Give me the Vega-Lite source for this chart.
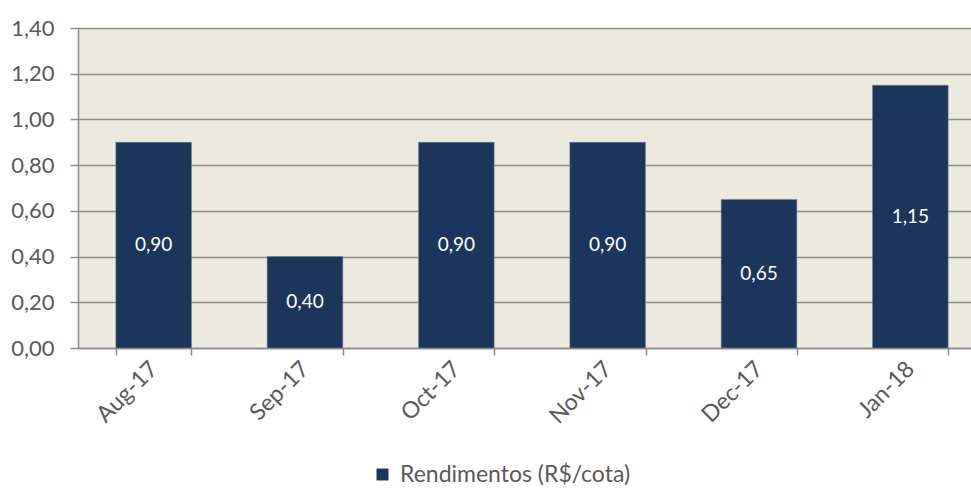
{
  "$schema": "https://vega.github.io/schema/vega-lite/v6.json",
  "width": 908,
  "height": 320,
  "autosize": {"type": "none"},
  "padding": {"left": 78, "top": 28, "right": 0, "bottom": 144},
  "background": "#ffffff",
  "config": {
    "locale": {"number": {"decimal": ",", "thousands": ".", "grouping": [3], "currency": ["R$", ""]}},
    "font": "Lato",
    "view": {"fill": "#ECE9DF", "stroke": null}
  },
  "data": {
    "values": [
      {"mes": "Aug-17", "valor": 0.90, "serie": "Rendimentos (R$/cota)"},
      {"mes": "Sep-17", "valor": 0.40, "serie": "Rendimentos (R$/cota)"},
      {"mes": "Oct-17", "valor": 0.90, "serie": "Rendimentos (R$/cota)"},
      {"mes": "Nov-17", "valor": 0.90, "serie": "Rendimentos (R$/cota)"},
      {"mes": "Dec-17", "valor": 0.65, "serie": "Rendimentos (R$/cota)"},
      {"mes": "Jan-18", "valor": 1.15, "serie": "Rendimentos (R$/cota)"}
    ]
  },
  "encoding": {
    "x": {
      "field": "mes", "type": "nominal", "sort": null,
      "scale": {"paddingInner": 0.5, "paddingOuter": 0.25},
      "axis": {
        "title": null, "labelAngle": -45, "labelAlign": "right", "labelBaseline": "middle",
        "labelFontSize": 23, "labelColor": "#595959", "labelPadding": 10,
        "tickBand": "extent", "tickSize": 7, "tickColor": "#8c8c8c", "tickWidth": 1.5,
        "domainColor": "#8c8c8c", "domainWidth": 1.5, "grid": false
      }
    }
  },
  "layer": [
    {
      "mark": {"type": "bar", "color": "#1A365D", "stroke": "#7d8794", "strokeWidth": 0.5},
      "encoding": {
        "y": {
          "field": "valor", "type": "quantitative",
          "scale": {"domain": [0, 1.4], "nice": false},
          "axis": {
            "title": null, "values": [0, 0.2, 0.4, 0.6, 0.8, 1.0, 1.2, 1.4], "format": ".2f",
            "labelFontSize": 22, "labelColor": "#595959", "labelPadding": 16,
            "grid": true, "gridColor": "#8c8c8c", "gridWidth": 1.5,
            "tickColor": "#8c8c8c", "tickSize": 8, "tickWidth": 1.5,
            "domainColor": "#8c8c8c", "domainWidth": 1.5
          }
        },
        "color": {
          "field": "serie", "type": "nominal",
          "scale": {"range": ["#1A365D"]},
          "legend": {
            "title": null, "orient": "none", "legendX": 293, "legendY": 435, "direction": "horizontal",
            "symbolType": "square", "symbolSize": 144, "symbolStrokeWidth": 0, "labelOffset": 6,
            "labelFontSize": 23, "labelColor": "#595959", "labelLimit": 0
          }
        }
      }
    },
    {
      "transform": [{"calculate": "datum.valor / 2", "as": "meio"}],
      "mark": {"type": "text", "color": "#ffffff", "fontSize": 19, "baseline": "middle", "align": "center"},
      "encoding": {
        "y": {"field": "meio", "type": "quantitative"},
        "text": {"field": "valor", "type": "quantitative", "format": ".2f"}
      }
    }
  ]
}
